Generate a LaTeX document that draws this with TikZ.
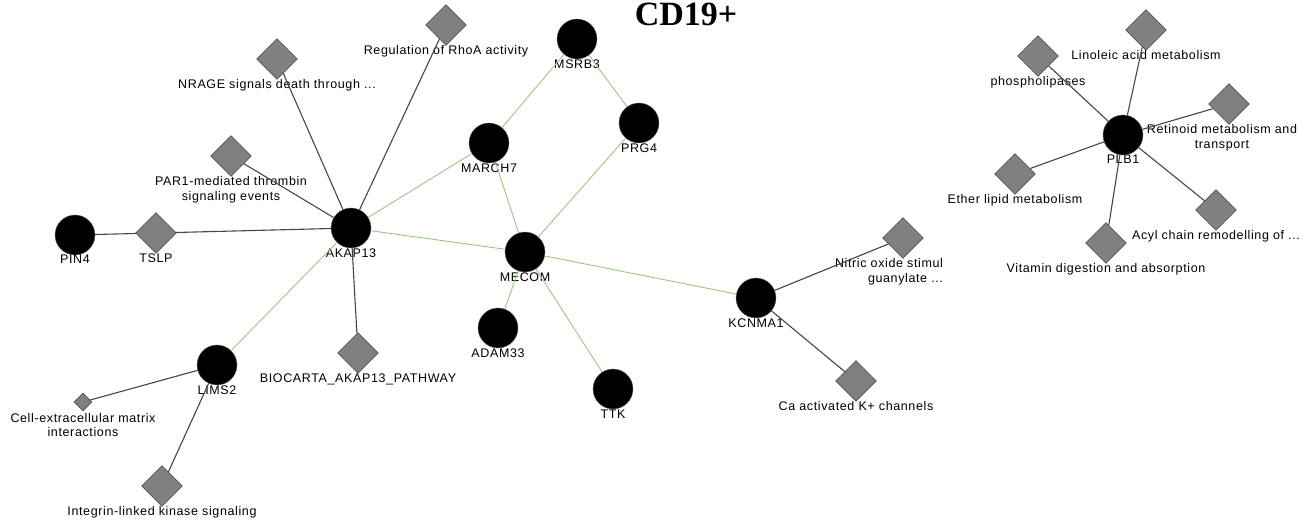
\documentclass[tikz,border=0pt]{standalone}
\usepackage{fontspec}
\setmainfont{Liberation Sans}
\newfontfamily\titlefont{Liberation Serif}
\newfontfamily\lblfont[LetterSpace=5]{Liberation Sans}
\usepackage{tikz}
\usetikzlibrary{shapes.geometric}
\definecolor{ppigreen}{RGB}{150,200,130}
\definecolor{linkgray}{RGB}{70,70,70}
\definecolor{pwgray}{RGB}{128,128,128}
\tikzstyle{gn}=[shape=circle,fill=black,draw=black!60,minimum size=40pt,inner sep=0pt,label distance=3.5pt]
\tikzstyle{pw}=[shape=diamond,fill=pwgray,draw=black!85,minimum size=41pt,inner sep=0pt,label distance=3.5pt]
\tikzstyle{spw}=[pw,minimum size=18pt]
\tikzstyle{ppi}=[draw=ppigreen,line width=0.9pt]
\tikzstyle{link}=[draw=linkgray,line width=1.1pt]
\tikzstyle{every label}=[font=\lblfont\fontsize{12.5}{14.5}\selectfont,align=center,inner sep=0pt]

\begin{document}
\begin{tikzpicture}[x=1pt,y=-1pt]
        \useasboundingbox (0, 0) rectangle (1304, 521);
        \node[anchor=base,font=\titlefont\bfseries\fontsize{34}{40}\selectfont] (T) at (686, 26) {CD19+}
        ;
        \node[gn,label=below:PIN4] (PIN4) at (75, 235) {}
        ;
        \node[pw,label=below:TSLP] (TSLP) at (156, 233) {}
            edge[link] (PIN4)
        ;
        \node[gn,label=below:AKAP13] (AKAP13) at (351, 228) {}
            edge[link] (TSLP)
        ;
        \node[pw,label={below:PAR1-mediated thrombin\\signaling events}] (PAR1) at (231, 156) {}
            edge[link] (AKAP13)
        ;
        \node[pw,label={below:NRAGE signals death through ...}] (NRAGE) at (277, 59) {}
            edge[link] (AKAP13)
        ;
        \node[pw,label={below:Regulation of RhoA activity}] (RHOA) at (446, 25) {}
            edge[link] (AKAP13)
        ;
        \node[pw,label={below:BIOCARTA\_AKAP13\_PATHWAY}] (BIOC) at (358, 353) {}
            edge[link] (AKAP13)
        ;
        \node[gn,label=below:LIMS2] (LIMS2) at (217, 365) {}
            edge[ppi] (AKAP13)
        ;
        \node[spw,label={[yshift=-2pt]below:Cell-extracellular matrix\\interactions}] (CECM) at (83, 402) {}
            edge[link] (LIMS2)
        ;
        \node[pw,label={below:Integrin-linked kinase signaling}] (ILK) at (162, 486) {}
            edge[link] (LIMS2)
        ;
        \node[gn,label=below:MARCH7] (MARCH7) at (489, 143) {}
            edge[ppi] (AKAP13)
        ;
        \node[gn,label=below:MSRB3] (MSRB3) at (577, 39) {}
            edge[ppi] (MARCH7)
        ;
        \node[gn,label=below:PRG4] (PRG4) at (639, 123) {}
            edge[ppi] (MSRB3)
        ;
        \node[gn,label=below:MECOM] (MECOM) at (525, 252) {}
            edge[ppi] (AKAP13)
            edge[ppi] (MARCH7)
            edge[ppi] (PRG4)
        ;
        \node[gn,label=below:ADAM33] (ADAM33) at (498, 328) {}
            edge[ppi] (MECOM)
        ;
        \node[gn,label=below:TTK] (TTK) at (613, 389) {}
            edge[ppi] (MECOM)
        ;
        \node[gn,label=below:KCNMA1] (KCNMA1) at (756, 298) {}
            edge[ppi] (MECOM)
        ;
        \node[pw,label={[align=right,xshift=-14pt]below:Nitric oxide stimul\\guanylate ...}] (NOGC) at (903, 238) {}
            edge[link] (KCNMA1)
        ;
        \node[pw,label={below:Ca activated K+ channels}] (CAK) at (856, 381) {}
            edge[link] (KCNMA1)
        ;
        \node[gn,label=below:PLB1] (PLB1) at (1123, 135) {}
        ;
        \node[pw,label=below:phospholipases] (PHOS) at (1038, 56) {}
            edge[link] (PLB1)
        ;
        \node[pw,label={below:Linoleic acid metabolism}] (LINO) at (1146, 30) {}
            edge[link] (PLB1)
        ;
        \node[pw,label={[xshift=-7pt]below:Retinoid metabolism and\\transport}] (RETI) at (1229, 104) {}
            edge[link] (PLB1)
        ;
        \node[pw,label={below:Ether lipid metabolism}] (ETHER) at (1015, 174) {}
            edge[link] (PLB1)
        ;
        \node[pw,label={below:Acyl chain remodelling of ...}] (ACYL) at (1216, 210) {}
            edge[link] (PLB1)
        ;
        \node[pw,label={below:Vitamin digestion and absorption}] (VITA) at (1106, 243) {}
            edge[link] (PLB1)
        ;
    \end{tikzpicture}
\end{document}
